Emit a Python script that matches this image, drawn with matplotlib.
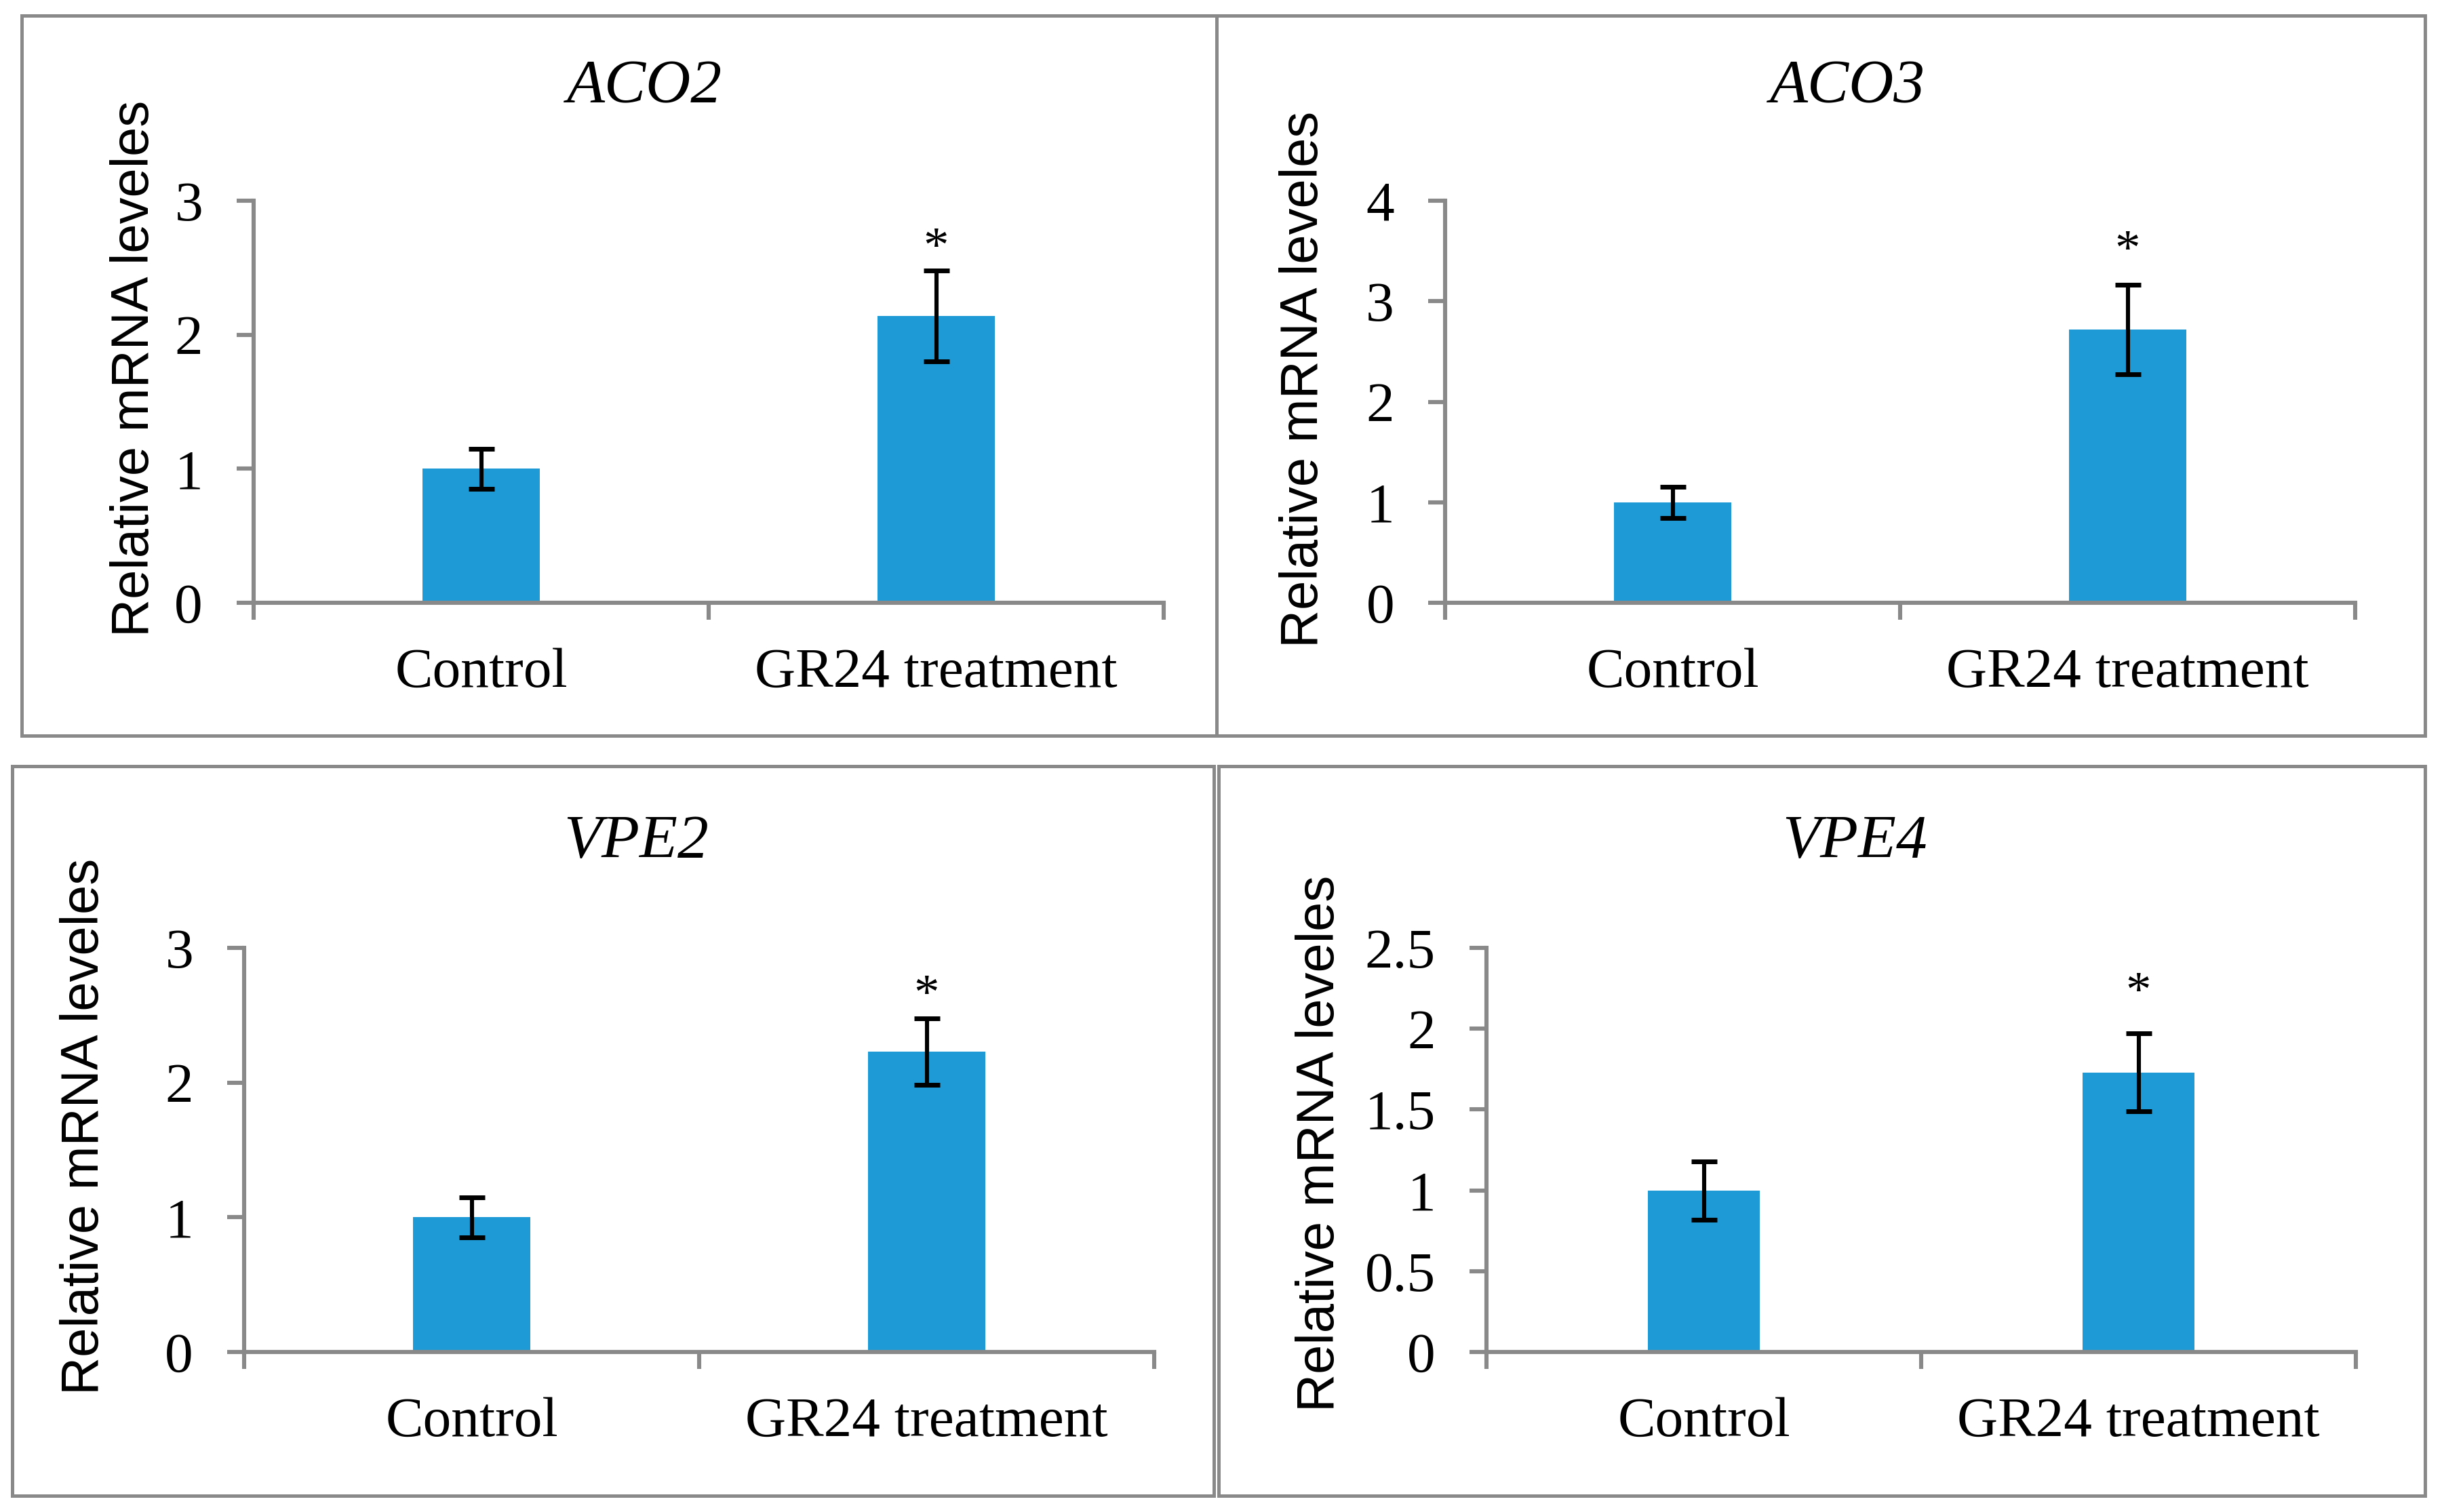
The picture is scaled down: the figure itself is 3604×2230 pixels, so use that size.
import matplotlib
matplotlib.use("Agg")
import matplotlib.pyplot as plt
from matplotlib.patches import Rectangle

# ---------------- data ----------------
genes = ["ACO2", "ACO3", "VPE2", "VPE4"]
categories = ["Control", "GR24 treatment"]
aco2_mean = [1.0, 2.14]
aco2_err = [0.15, 0.34]
aco3_mean = [1.0, 2.72]
aco3_err = [0.155, 0.445]
vpe2_mean = [1.0, 2.23]
vpe2_err = [0.15, 0.245]
vpe4_mean = [1.0, 1.73]
vpe4_err = [0.18, 0.24]
aco2_ticks = [0, 1, 2, 3]
aco3_ticks = [0, 1, 2, 3, 4]
vpe2_ticks = [0, 1, 2, 3]
vpe4_ticks = [0, 0.5, 1, 1.5, 2, 2.5]
aco2_ticklabels = ["0", "1", "2", "3"]
aco3_ticklabels = ["0", "1", "2", "3", "4"]
vpe2_ticklabels = ["0", "1", "2", "3"]
vpe4_ticklabels = ["0", "0.5", "1", "1.5", "2", "2.5"]
significance = ["", "*"]
ylabel_text = "Relative mRNA leveles"

means = [aco2_mean, aco3_mean, vpe2_mean, vpe4_mean]
errs = [aco2_err, aco3_err, vpe2_err, vpe4_err]
ticks = [aco2_ticks, aco3_ticks, vpe2_ticks, vpe4_ticks]
ticklabels = [aco2_ticklabels, aco3_ticklabels, vpe2_ticklabels, vpe4_ticklabels]

# ---------------- layout (pixels) ----------------
W, H = 3604, 2230
DPI = 200
fig = plt.figure(figsize=(W / DPI, H / DPI), dpi=DPI)

GRAY = "#898989"
BLUE = "#1E9BD7"
SERIF = ["Liberation Serif", "DejaVu Serif"]
SANS = ["Liberation Sans", "DejaVu Sans"]

# axes: (x_left, x_right, y_top_tick, y_zero) in pixels
axes_px = [
    (374, 1716, 296, 889),
    (2131, 3473, 296, 889),
    (360, 1702, 1398, 1994),
    (2192, 3474, 1398, 1994),
]
star_offset_pt = [11, 17, 11.5, 21]
title_px = [(950, 129), (2724, 129), (938, 1243), (2735, 1243)]
ylabel_px = [(199, 543), (1922, 559), (125, 1661), (1947, 1686)]
boxes_px = [
    (32, 23, 1794, 1085),
    (1794, 23, 3576, 1085),
    (18, 1130, 1790, 2206),
    (1797, 1130, 3576, 2206),
]

for (x0, y0, x1, y1) in boxes_px:
    fig.add_artist(Rectangle((x0 / W, 1 - y1 / H), (x1 - x0) / W, (y1 - y0) / H,
                             transform=fig.transFigure, fill=False,
                             edgecolor=GRAY, linewidth=1.8))

for i, g in enumerate(genes):
    xl, xr, yt, yz = axes_px[i]
    ax = fig.add_axes([xl / W, 1 - yz / H, (xr - xl) / W, (yz - yt) / H])
    x = list(range(len(categories)))
    ax.bar(x, means[i], width=0.258, color=BLUE, zorder=2)
    ax.errorbar(x, means[i], yerr=errs[i], fmt="none", ecolor="black",
                elinewidth=2.2, capsize=7, capthick=2.5, zorder=3)
    for j, s in enumerate(significance):
        if s:
            ax.annotate(s, (x[j], means[i][j] + errs[i][j]),
                        xytext=(0, star_offset_pt[i]),
                        textcoords="offset points", ha="center", va="center",
                        fontsize=27, family=SERIF, zorder=4)
    ax.set_xlim(-0.5, len(categories) - 0.5)
    ax.set_ylim(0, ticks[i][-1])
    ax.set_yticks(ticks[i])
    ax.set_yticklabels(ticklabels[i], family=SERIF, fontsize=30)
    ax.set_xticks(x)
    ax.set_xticklabels(categories, family=SERIF, fontsize=30)
    ax.set_xticks([k - 0.5 for k in range(len(categories) + 1)], minor=True)
    ax.tick_params(axis="x", which="major", length=0, pad=24)
    ax.tick_params(axis="x", which="minor", length=9, width=2.2, color=GRAY,
                   direction="out")
    ax.tick_params(axis="y", which="major", length=9, width=2.2, color=GRAY,
                   direction="out", pad=18)
    for side in ("top", "right"):
        ax.spines[side].set_visible(False)
    for side in ("left", "bottom"):
        ax.spines[side].set_color(GRAY)
        ax.spines[side].set_linewidth(2.2)
    ax.spines["bottom"].set_zorder(5)

    tx, ty = title_px[i]
    fig.text(tx / W, 1 - ty / H, g, ha="center", va="center", fontsize=33,
             style="italic", family=SERIF)
    lx, ly = ylabel_px[i]
    fig.text(lx / W, 1 - ly / H, ylabel_text, ha="center", va="center",
             rotation=90, fontsize=28, family=SANS)

fig.savefig("out.png", dpi=DPI)
